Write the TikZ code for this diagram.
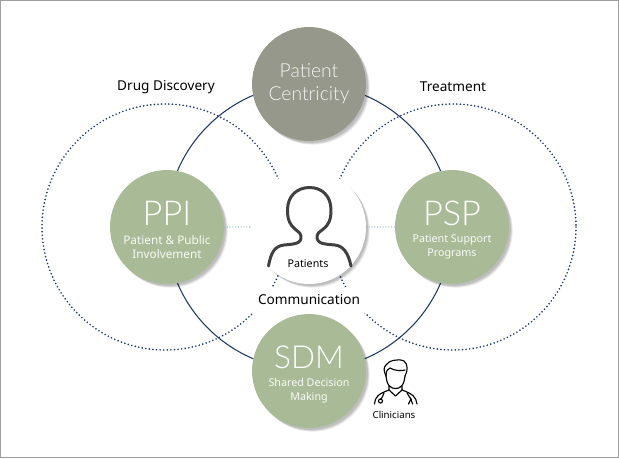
\documentclass[tikz,border=0pt]{standalone}
\usepackage{fontspec}
\usepackage{tikz}
\usetikzlibrary{shadows}
\setmainfont{Noto Sans}
\newfontfamily\thinfont{Lato Light}
\definecolor{sage}{HTML}{A9BB96}
\definecolor{stone}{HTML}{95988A}
\definecolor{navy}{HTML}{1F3864}
\definecolor{pale}{HTML}{8FB3C2}
\definecolor{iconink}{HTML}{404040}
\tikzset{softshade/.style = {
  drop shadow = {shadow xshift = 1.1pt, shadow yshift = -1.1pt, opacity = 0.10, fill = black},
  drop shadow = {shadow xshift = 1.6pt, shadow yshift = -1.6pt, opacity = 0.10, fill = black},
  drop shadow = {shadow xshift = 2.1pt, shadow yshift = -2.1pt, opacity = 0.08, fill = black}}}
\tikzset{disc/.style = {circle, inner sep = 0, minimum size = 2.28cm, align = center, text = white, softshade}}
\tikzset{title/.style = {font = \fontsize{7.75}{10}\selectfont, text = black}}
\tikzset{small/.style = {font = \fontsize{6.1}{8}\selectfont, text = white!92!sage, align = center}}
\tikzset{large/.style = {font = \thinfont\fontsize{19.5}{20}\selectfont, text = white}}
\tikzset{scatter/.style = {navy, line width = 1.05pt, line cap = round, dash pattern = on 0pt off 2.05pt}}
\tikzset{faint/.style = {pale, line width = 0.75pt, line cap = round, dash pattern = on 0pt off 1.6pt}}

\begin{document}
\begin{tikzpicture}[x=0.02cm, y=-0.02cm]
      \useasboundingbox (0, 0) rectangle (619, 458);
      \draw [gray!75, line width = 0.6pt] (0.5, 0.5) rectangle (618.5, 457.5);
      \coordinate (hub) at (309, 227);
      \coordinate (left) at (165, 227);
      \coordinate (right) at (453, 227);
      % the two dotted fields and the ring through the four discs
      \draw [scatter] (left) circle [radius=123];
      \draw [scatter] (right) circle [radius=123];
      \draw [navy, line width = 0.6pt] (hub) circle [radius=143];
      \node [title, fill=white, minimum width = 2.28cm, minimum height = 0.52cm, inner sep = 0] (comm) at (309, 300) {Communication};
      \node [title] (drug) at (166, 87) {Drug Discovery};
      \node [title] (treat) at (453, 87) {Treatment};
      % discs
      \node [disc, fill=stone] (centricity) at (309, 84) {};
      \node [disc, fill=sage] (ppi) at (167, 227) {};
      \node [disc, fill=sage] (psp) at (452, 227) {};
      \node [disc, fill=sage] (sdm) at (309, 371) {};
      \node [disc, fill=white] (patients) at (hub) {};
      \draw [faint] (ppi) -- (patients);
      \draw [faint] (patients) -- (psp);
      % disc texts
      \node [text=white!90!stone, font=\thinfont\fontsize{11}{13}\selectfont, align=center] (centricitytext) at (309, 84) {Patient\\Centricity};
      \node [large] (ppititle) at (167, 213) {PPI};
      \node [small, font=\fontsize{6.7}{8}\selectfont] (ppitext) at (167, 247) {Patient \& Public\\Involvement};
      \node [large] (psptitle) at (452, 213) {PSP};
      \node [small] (psptext) at (452, 247) {Patient Support\\Programs};
      \node [large, font=\thinfont\fontsize{18}{20}\selectfont] (sdmtitle) at (309, 357) {SDM};
      \node [small] (sdmtext) at (309, 391) {Shared Decision\\Making};
      \node [font=\fontsize{6.1}{8}\selectfont] (patientslabel) at (308, 264) {Patients};
      \node [font=\fontsize{5.5}{8}\selectfont] (clinlabel) at (394, 415) {Clinicians};
      % patient outline
      \draw [iconink, line width = 1.7pt, line cap = round, line join = round]
        (268.5, 266) .. controls (271, 252) and (275, 246) .. (284, 245)
        .. controls (294, 244) and (302, 244) .. (301, 236)
        .. controls (300.5, 232) and (296, 231) .. (292, 226)
        .. controls (288, 221) and (287.5, 216) .. (287.5, 210)
        .. controls (287.5, 196) and (297, 187.5) .. (309.5, 187.5)
        .. controls (322, 187.5) and (331, 196) .. (331, 210)
        .. controls (331, 216) and (330.5, 221) .. (326.5, 226)
        .. controls (322, 231) and (317.5, 232) .. (317, 236)
        .. controls (316.5, 244) and (324, 244) .. (335, 245)
        .. controls (343, 246) and (348, 252) .. (351, 266);
      % clinician outline
      \begin{scope} [black, line width = 0.65pt, line cap = round, line join = round]
        \draw (386, 376) .. controls (387, 386) and (391, 388.5) .. (395.5, 388.5)
          .. controls (400, 388.5) and (404, 386) .. (405, 376);
        \draw (386, 376) .. controls (383, 370) and (384, 367) .. (386, 365)
          .. controls (388, 361) and (398, 358) .. (404, 361)
          .. controls (408, 364) and (408, 371) .. (405, 376);
        \draw (386, 376) .. controls (386, 370) and (388, 369) .. (390, 368)
          .. controls (395, 371) and (401, 371) .. (405, 370);
        \draw (374.5, 404) .. controls (375, 397) and (378, 394) .. (389, 390) -- (389, 386);
        \draw (417, 404) .. controls (416, 397) and (413, 394) .. (402, 390) -- (402, 386);
        \draw (389, 390) -- (395.5, 396) -- (402, 390);
        \draw (384, 393) .. controls (383, 396) and (382, 398) .. (380.5, 399.5);
        \draw (380.5, 401) circle [radius=2];
        \draw (407, 393) .. controls (409, 396) and (410, 398) .. (411, 399) -- (412.5, 404);
        \draw (411, 399) -- (408.5, 404);
      \end{scope}
    \end{tikzpicture}
\end{document}
